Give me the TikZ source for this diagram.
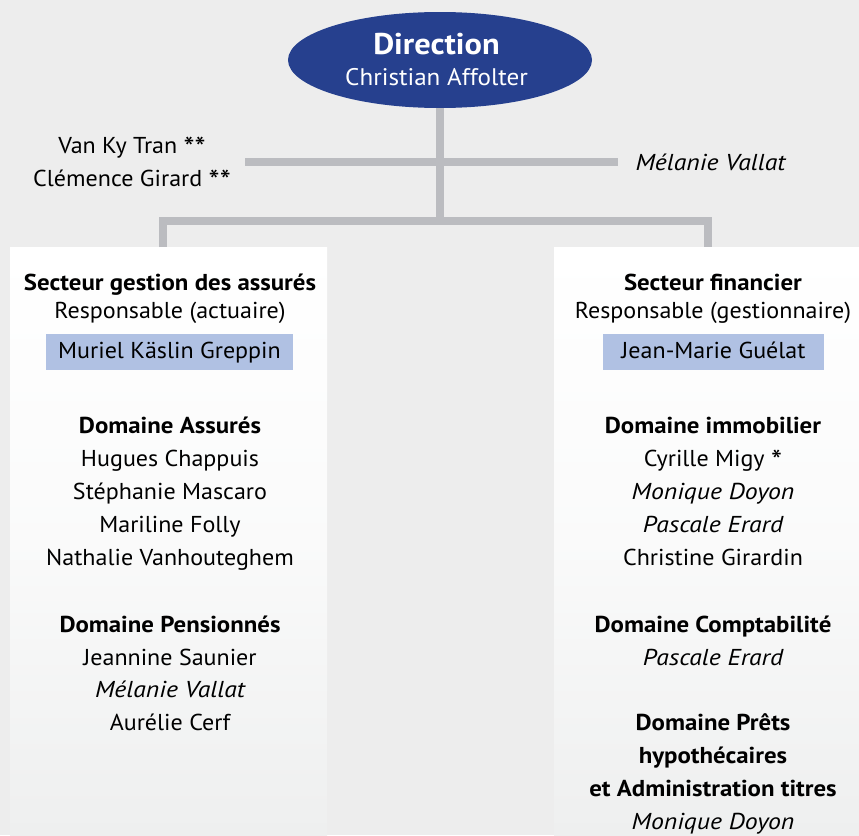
\documentclass[tikz,border=0pt]{standalone}
\usepackage{fontspec}
\setmainfont{PT Sans}[
  UprightFeatures={FakeStretch=1.045},
  BoldFeatures={FakeStretch=1.08},
  ItalicFeatures={FakeStretch=1.12}]
\usetikzlibrary{shapes.geometric}
\definecolor{bg}{HTML}{EDEDED}
\definecolor{dirblue}{HTML}{26408E}
\definecolor{linegray}{HTML}{BBBCC0}
\definecolor{hlblue}{HTML}{B0C1E3}
\definecolor{panelbot}{HTML}{EEEFEF}
\newcommand{\bigast}{\raisebox{-5pt}{\fontsize{30}{30}\selectfont *}}
\begin{document}
\begin{tikzpicture}[x=1pt,y=-1pt,
  conn/.style={draw=linegray, line width=8pt},
  txt/.style={anchor=base, inner sep=0pt, text=black, font=\fontsize{23}{28}\selectfont},
  boldtxt/.style={txt, font=\fontsize{23}{28}\selectfont\bfseries},
  italtxt/.style={txt, font=\fontsize{23}{28}\selectfont\itshape},
  panel/.style={anchor=north west, inner sep=0pt, draw=none, top color=white, bottom color=panelbot, middle color=white!70!panelbot},
  hlbox/.style={fill=hlblue, inner xsep=0pt, inner ysep=8pt, text height=16pt, text depth=4pt, minimum height=36pt, font=\fontsize{23}{28}\selectfont},
  dirshape/.style={ellipse, fill=dirblue, draw=none, minimum width=304pt, minimum height=96pt, inner sep=0pt}
]
\useasboundingbox (0,0) rectangle (859,835);
\fill[bg] (0,0) rectangle (859,835);

% Direction
\node[dirshape] (dir) at (440,60) {};
\node[txt, text=white, font=\fontsize{30}{34}\selectfont\bfseries] (dirt) at (436.5,54) {Direction};
\node[txt, text=white, font=\fontsize{24}{30}\selectfont] (dirn) at (436.5,85) {Christian Affolter};

% connector coordinates
\coordinate (hl) at (245,162);
\coordinate (hr) at (618,162);
\coordinate (jl) at (162.5,221);
\coordinate (jr) at (707.5,221);

% panels
\node[panel, minimum width=317pt, minimum height=588pt] (lp) at (10,247) {};
\node[panel, minimum width=305pt, minimum height=588pt] (rp) at (554,247) {};

% connectors
\draw[conn] (dir.south) -- (dir.south |- jl);
\draw[conn] (hl) -- (hr);
\draw[conn] (jl |- lp.north) -- (jl) -- (jr) -- (jr |- rp.north);

% staff near direction
\node[txt] (s1) at (132,153) {Van Ky Tran \bigast\bigast};
\node[txt] (s2) at (132,186) {Clémence Girard \bigast\bigast};
\node[italtxt] (s3) at (710.5,170) {Mélanie Vallat};

% left panel
\node[boldtxt] (l1) at (170,290) {Secteur gestion des assurés};
\node[txt] (l2) at (170,318) {Responsable (actuaire)};
\node[hlbox, minimum width=247pt] (lh) at (169.5,352) {Muriel Käslin Greppin};
\node[boldtxt] (l3) at (170,433) {Domaine Assurés};
\node[txt] (l4) at (170,466) {Hugues Chappuis};
\node[txt] (l5) at (170,499) {Stéphanie Mascaro};
\node[txt] (l6) at (170,532) {Mariline Folly};
\node[txt] (l7) at (170,565) {Nathalie Vanhouteghem};
\node[boldtxt] (l8) at (170,632) {Domaine Pensionnés};
\node[txt] (l9) at (170,665) {Jeannine Saunier};
\node[italtxt] (l10) at (170,697) {Mélanie Vallat};
\node[txt] (l11) at (170,730) {Aurélie Cerf};

% right panel
\node[boldtxt] (r1) at (713,290) {Secteur financier};
\node[txt] (r2) at (713,318) {Responsable (gestionnaire)};
\node[hlbox, minimum width=221pt] (rh) at (713.5,352) {Jean-Marie Guélat};
\node[boldtxt] (r3) at (713,433) {Domaine immobilier};
\node[txt] (r4) at (713,466) {Cyrille Migy \bigast};
\node[italtxt] (r5) at (713,499) {Monique Doyon};
\node[italtxt] (r6) at (713,532) {Pascale Erard};
\node[txt] (r7) at (713,565) {Christine Girardin};
\node[boldtxt] (r8) at (713,632) {Domaine Comptabilité};
\node[italtxt] (r9) at (713,665) {Pascale Erard};
\node[boldtxt] (r10) at (713,730) {Domaine Prêts};
\node[boldtxt] (r11) at (713,763) {hypothécaires};
\node[boldtxt] (r12) at (713,796) {et Administration titres};
\node[italtxt] (r13) at (713,829) {Monique Doyon};
\end{tikzpicture}
\end{document}
